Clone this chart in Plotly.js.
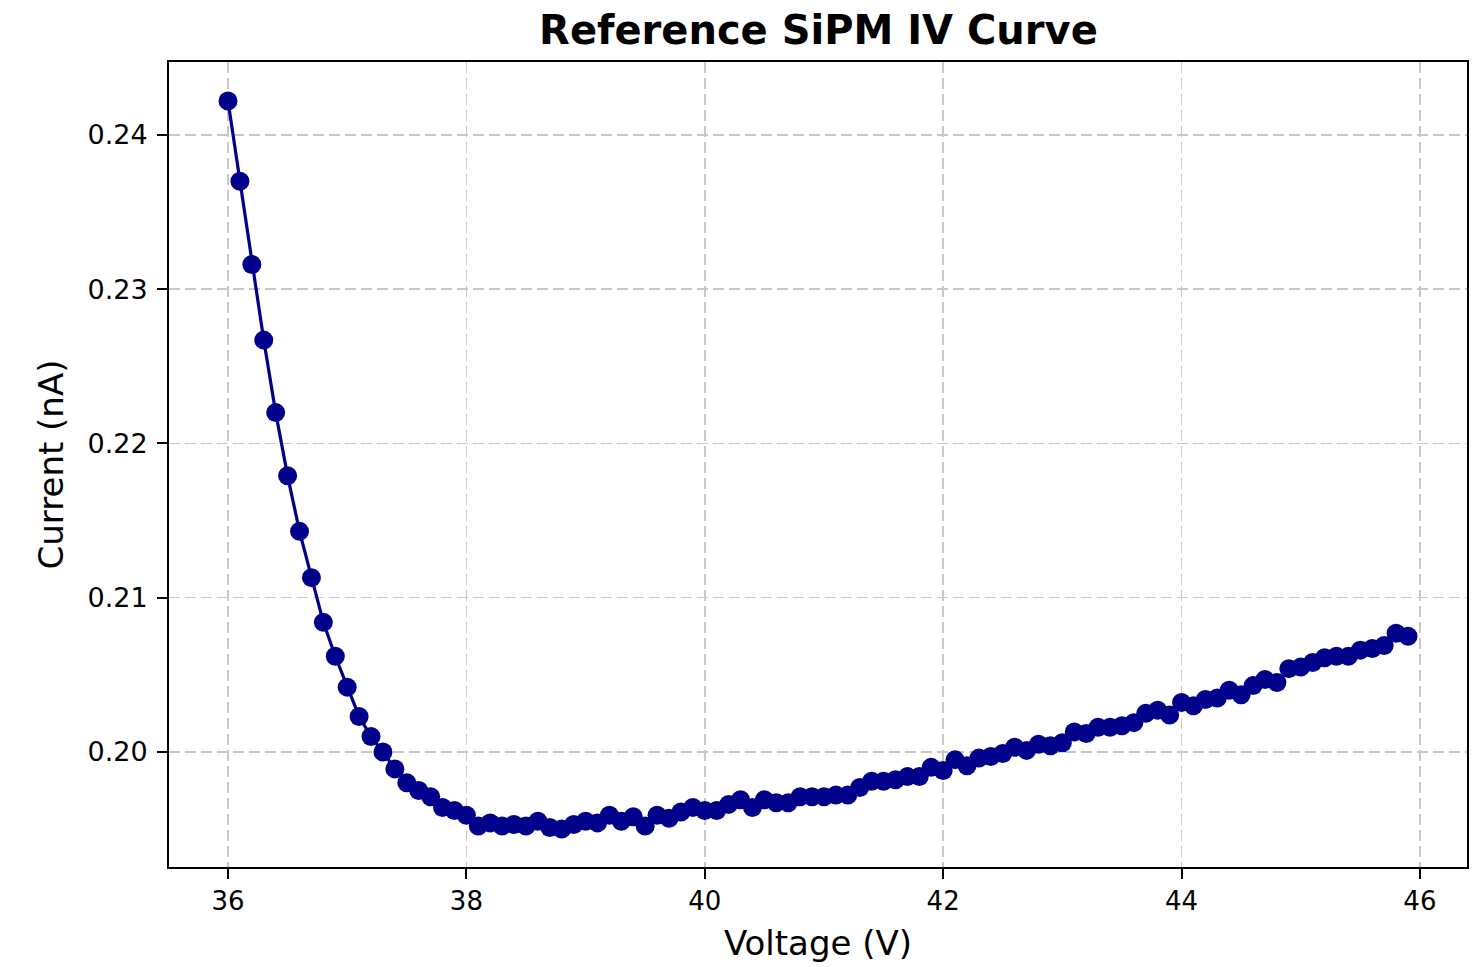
<!DOCTYPE html>
<html>
<head>
<meta charset="utf-8">
<script src="https://cdn.plot.ly/plotly-3.0.1.min.js"></script>
<style>
html,body{margin:0;padding:0;background:#fff;}
#chart{width:1476px;height:967px;}
</style>
</head>
<body>
<div id="chart"></div>
<script>
const voltage = [36.0,36.1,36.2,36.3,36.4,36.5,36.6,36.7,36.8,36.9,
37.0,37.1,37.2,37.3,37.4,37.5,37.6,37.7,37.8,37.9,
38.0,38.1,38.2,38.3,38.4,38.5,38.6,38.7,38.8,38.9,
39.0,39.1,39.2,39.3,39.4,39.5,39.6,39.7,39.8,39.9,
40.0,40.1,40.2,40.3,40.4,40.5,40.6,40.7,40.8,40.9,
41.0,41.1,41.2,41.3,41.4,41.5,41.6,41.7,41.8,41.9,
42.0,42.1,42.2,42.3,42.4,42.5,42.6,42.7,42.8,42.9,
43.0,43.1,43.2,43.3,43.4,43.5,43.6,43.7,43.8,43.9,
44.0,44.1,44.2,44.3,44.4,44.5,44.6,44.7,44.8,44.9,
45.0,45.1,45.2,45.3,45.4,45.5,45.6,45.7,45.8,45.9];

const current = [0.2422,0.2370,0.2316,0.2267,0.2220,0.2179,0.2143,0.2113,0.2084,0.2062,
0.2042,0.2023,0.2010,0.2000,0.1989,0.1980,0.1975,0.1971,0.1964,0.1962,
0.1959,0.1952,0.1954,0.1952,0.1953,0.1952,0.1955,0.1951,0.1950,0.1953,
0.1955,0.1954,0.1959,0.1955,0.1958,0.1952,0.1959,0.1957,0.1961,0.1964,
0.1962,0.1962,0.1966,0.1969,0.1964,0.1969,0.1967,0.1967,0.1971,0.1971,
0.1971,0.1972,0.1972,0.1977,0.1981,0.1981,0.1982,0.1984,0.1984,0.1990,
0.1988,0.1995,0.1991,0.1996,0.1997,0.1999,0.2003,0.2001,0.2005,0.2004,
0.2006,0.2013,0.2012,0.2016,0.2016,0.2017,0.2019,0.2025,0.2027,0.2024,
0.2032,0.2030,0.2034,0.2035,0.2040,0.2037,0.2043,0.2047,0.2045,0.2054,
0.2055,0.2058,0.2061,0.2062,0.2062,0.2066,0.2067,0.2069,0.2077,0.2075];

const xTicks = [36,38,40,42,44,46];
const yTicks = [0.20,0.21,0.22,0.23,0.24];

const trace = {
  x: voltage, y: current, type: 'scatter', mode: 'lines+markers',
  line: {color: '#00008B', width: 3.2},
  marker: {color: '#00008B', size: 19},
  hoverinfo: 'x+y'
};

const gridStyle = {showgrid: true, gridcolor: '#c8c8c8', gridwidth: 1.5, griddash: '11px,5px'};

const layout = {
  width: 1476, height: 967,
  margin: {l: 169, r: 9, t: 62, b: 100, pad: 0},
  paper_bgcolor: '#fff', plot_bgcolor: '#fff',
  showlegend: false,
  font: {family: 'DejaVu Sans, sans-serif', color: '#000'},
  title: {text: '<b>Reference SiPM IV Curve</b>', font: {size: 40, family: 'DejaVu Sans, sans-serif', color: '#000'},
          x: 0.5545, xanchor: 'center', y: 0.969, yanchor: 'middle'},
  xaxis: Object.assign({
    range: [35.505, 46.395], tickvals: xTicks, ticktext: xTicks.map(String),
    ticks: 'outside', ticklen: 10, tickwidth: 2, tickcolor: '#000',
    tickfont: {size: 26}, showline: true, linecolor: '#000', linewidth: 2, mirror: true,
    zeroline: false,
    title: {text: 'Voltage (V)', font: {size: 34}, standoff: 16}
  }, gridStyle),
  yaxis: Object.assign({
    range: [0.19254, 0.24473], tickvals: yTicks, ticktext: yTicks.map(v => v.toFixed(2)),
    ticks: 'outside', ticklen: 10, tickwidth: 2, tickcolor: '#000', ticklabelstandoff: 4,
    tickfont: {size: 27}, showline: true, linecolor: '#000', linewidth: 2, mirror: true,
    zeroline: false,
    title: {text: 'Current (nA)', font: {size: 34}, standoff: 14}
  }, gridStyle)
};

Plotly.newPlot('chart', [trace], layout, {displayModeBar: false, staticPlot: true});
</script>
</body>
</html>
